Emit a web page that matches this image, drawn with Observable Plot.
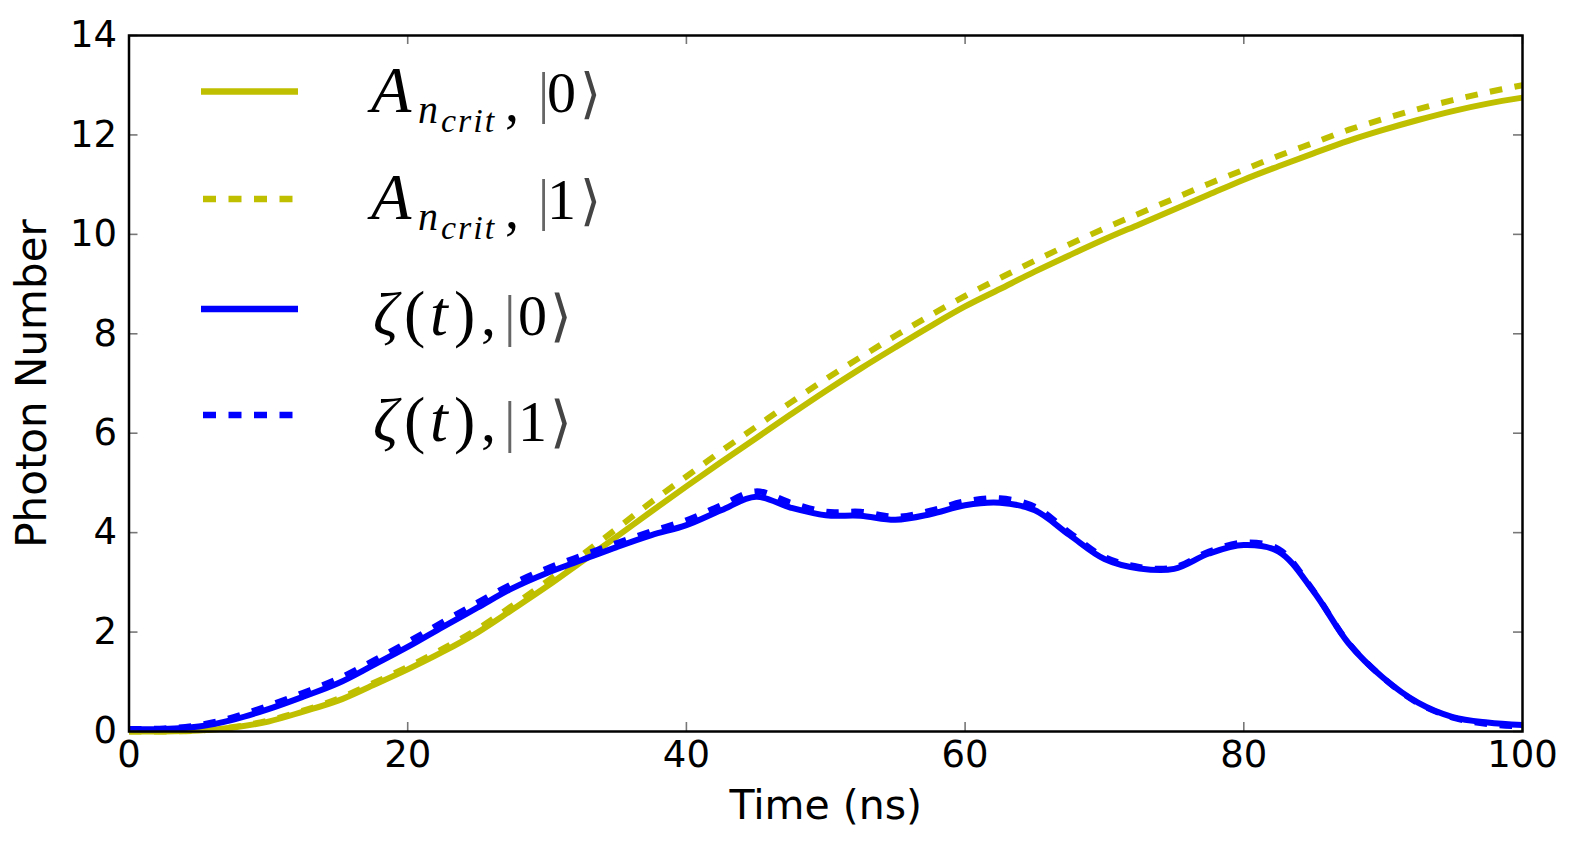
<!DOCTYPE html>
<html>
<head>
<meta charset="utf-8">
<script src="https://cdn.jsdelivr.net/npm/d3@7"></script>
<script src="https://cdn.jsdelivr.net/npm/@observablehq/plot@0.6"></script>
<style>
  body { margin: 0; background: #fff; }
  #wrap { position: relative; width: 1575px; height: 844px; }
  #key { position: absolute; left: 0; top: 0; pointer-events: none; }
</style>
</head>
<body>
<div id="wrap"></div>
<script>
// Time axis (ns), sampled every 2.5 ns
const time = [0, 2.5, 5, 7.5, 10, 12.5, 15, 17.5, 20, 22.5, 25, 27.5, 30, 32.5, 35, 37.5, 40,
  42.5, 45, 47.5, 50, 52.5, 55, 57.5, 60, 62.5, 65, 67.5, 70, 72.5, 75, 77.5, 80, 82.5, 85,
  87.5, 90, 92.5, 95, 97.5, 100];

// Critical-photon amplitude, qubit in |0> and |1>
const aCrit0 = [0, 0, 0.02, 0.08, 0.2, 0.4, 0.62, 0.93, 1.25, 1.6, 1.99, 2.45, 2.92, 3.42, 3.92,
  4.43, 4.93, 5.42, 5.9, 6.38, 6.85, 7.3, 7.73, 8.15, 8.55, 8.9, 9.25, 9.58, 9.9, 10.2, 10.5,
  10.8, 11.1, 11.37, 11.63, 11.88, 12.1, 12.3, 12.48, 12.63, 12.75];
const aCrit1 = [0, 0, 0.02, 0.09, 0.22, 0.42, 0.66, 0.97, 1.3, 1.66, 2.06, 2.53, 3.02, 3.55, 4.08,
  4.62, 5.13, 5.64, 6.13, 6.62, 7.09, 7.53, 7.96, 8.37, 8.76, 9.12, 9.47, 9.8, 10.12, 10.42,
  10.72, 11.02, 11.3, 11.58, 11.84, 12.1, 12.32, 12.52, 12.7, 12.86, 13.0];

// Photon number zeta(t), qubit in |0> and |1>
const zeta0 = [0.05, 0.05, 0.1, 0.24, 0.45, 0.7, 0.97, 1.33, 1.7, 2.1, 2.49, 2.88, 3.19, 3.45,
  3.71, 3.95, 4.15, 4.45, 4.72, 4.5, 4.35, 4.34, 4.26, 4.37, 4.55, 4.6, 4.45, 3.95, 3.47, 3.28,
  3.27, 3.58, 3.75, 3.62, 2.82, 1.78, 1.08, 0.58, 0.29, 0.18, 0.13];
const zeta1 = [0.05, 0.06, 0.13, 0.29, 0.52, 0.78, 1.06, 1.42, 1.8, 2.2, 2.59, 2.97, 3.28, 3.54,
  3.79, 4.03, 4.25, 4.55, 4.83, 4.6, 4.42, 4.42, 4.32, 4.44, 4.63, 4.69, 4.52, 4.0, 3.51, 3.31,
  3.3, 3.62, 3.8, 3.67, 2.83, 1.79, 1.08, 0.57, 0.28, 0.15, 0.1];

// Tick values
const xTicks = [0, 20, 40, 60, 80, 100];
const yTicks = [0, 2, 4, 6, 8, 10, 12, 14];

const olive = "#bfbf00";
const blue = "#0000ff";
const dash = "12.5,12.5";

const series = [
  {values: aCrit0, color: olive, dash: null},
  {values: aCrit1, color: olive, dash: dash},
  {values: zeta0, color: blue, dash: null},
  {values: zeta1, color: blue, dash: dash}
];

// Figure geometry
const W = 1575, H = 844;
const mLeft = 128.5, mRight = 53, mTop = 35, mBottom = 113;
const xDomain = [0, 100], yDomain = [0, 14];
const tickLen = 9; // px, drawn inward from the frame
const tickX = tickLen * (xDomain[1] - xDomain[0]) / (W - mLeft - mRight);
const tickY = tickLen * (yDomain[1] - yDomain[0]) / (H - mTop - mBottom);

const lineMarks = series.map(s =>
  Plot.line(time.map((t, i) => ({t, v: s.values[i]})), {
    x: "t", y: "v", stroke: s.color, strokeWidth: 6,
    strokeDasharray: s.dash, strokeLinecap: "butt", curve: "catmull-rom"
  })
);

const tickStroke = {stroke: "#777", strokeWidth: 1.6};

const chart = Plot.plot({
  width: W,
  height: H,
  marginLeft: mLeft,
  marginRight: mRight,
  marginTop: mTop,
  marginBottom: mBottom,
  x: {domain: xDomain},
  y: {domain: yDomain},
  style: {fontFamily: "'DejaVu Sans', sans-serif", color: "#000", background: "#fff", overflow: "visible"},
  marks: [
    ...lineMarks,
    // inward ticks on all four sides
    Plot.ruleX(xTicks, {x: d => d, y1: yDomain[0], y2: yDomain[0] + tickY, ...tickStroke}),
    Plot.ruleX(xTicks, {x: d => d, y1: yDomain[1], y2: yDomain[1] - tickY, ...tickStroke}),
    Plot.ruleY(yTicks, {y: d => d, x1: xDomain[0], x2: xDomain[0] + tickX, ...tickStroke}),
    Plot.ruleY(yTicks, {y: d => d, x1: xDomain[1], x2: xDomain[1] - tickX, ...tickStroke}),
    // tick labels
    Plot.axisX(xTicks, {anchor: "bottom", tickSize: 0, tickPadding: 9, fontSize: 37, tickFormat: d => `${d}`, label: null}),
    Plot.axisY(yTicks, {anchor: "left", tickSize: 0, tickPadding: 12, fontSize: 37, tickFormat: d => `${d}`, label: null}),
    Plot.frame({stroke: "#000", strokeWidth: 2.5}),
    // axis titles
    Plot.text(["Time (ns)"], {frameAnchor: "bottom", dy: 74, fontSize: 41, textAnchor: "middle", lineAnchor: "middle"}),
    Plot.text(["Photon Number"], {frameAnchor: "left", dx: -96, rotate: -90, fontSize: 42, textAnchor: "middle", lineAnchor: "middle"})
  ]
});

const wrap = document.getElementById("wrap");
wrap.appendChild(chart);

// Legend: sample line + mathematical label for each series.
// Each piece: [text, style, x, baseline shift, font size]
const ampLabel = ket => [
  ["A", "it", 371, 0, 66],
  ["n", "it", 418, 11, 40],
  ["crit", "it", 441, 20, 34],
  [",", "rm", 505, 9, 56],
  ["|", "bar", 538, 0, 56],
  [ket, "rm", 547, 0, 58],
  ["\u27E9", "ang", 580, 0, 54]
];
const zetaLabel = ket => [
  ["\u03B6", "it", 373, 0, 62],
  ["(", "rm", 404, 0, 64],
  ["t", "it", 430, 0, 64],
  [")", "rm", 454, 0, 64],
  [",", "rm", 481, 0, 60],
  ["|", "bar", 504, 0, 58],
  [ket, "rm", 518, 0, 58],
  ["\u27E9", "ang", 550, 0, 56]
];
const legendLabels = [ampLabel("0"), ampLabel("1"), zetaLabel("0"), zetaLabel("1")];
const legendRowY = [91.5, 199, 309, 415];
const legendBaseline = [20, 20, 26, 26];

const key = d3.select(wrap).append("svg")
  .attr("id", "key").attr("width", W).attr("height", H);

series.forEach((s, i) => {
  const y = legendRowY[i];
  key.append("line")
    .attr("x1", s.dash ? 203 : 201).attr("x2", s.dash ? 300 : 298).attr("y1", y).attr("y2", y)
    .attr("stroke", s.color).attr("stroke-width", 6.5)
    .attr("stroke-dasharray", s.dash ? "13,12.5" : null);

  const base = y + legendBaseline[i];
  const g = key.append("g")
    .attr("font-family", "'Liberation Serif', 'DejaVu Serif', serif")
    .attr("fill", "#000");

  legendLabels[i].forEach(([str, kind, x, shift, size]) => {
    const t = g.append("text").attr("x", x).attr("y", base + shift)
      .attr("font-size", size).text(str);
    if (kind === "it") t.attr("font-style", "italic");
    if (str === "crit") t.attr("letter-spacing", 2);
    if (kind === "bar") t.attr("fill", "#666").attr("font-weight", 200);
    if (kind === "ang") t.attr("font-family", "'DejaVu Sans', sans-serif").attr("font-weight", 200).attr("fill", "#444");
  });
});
</script>
</body>
</html>
